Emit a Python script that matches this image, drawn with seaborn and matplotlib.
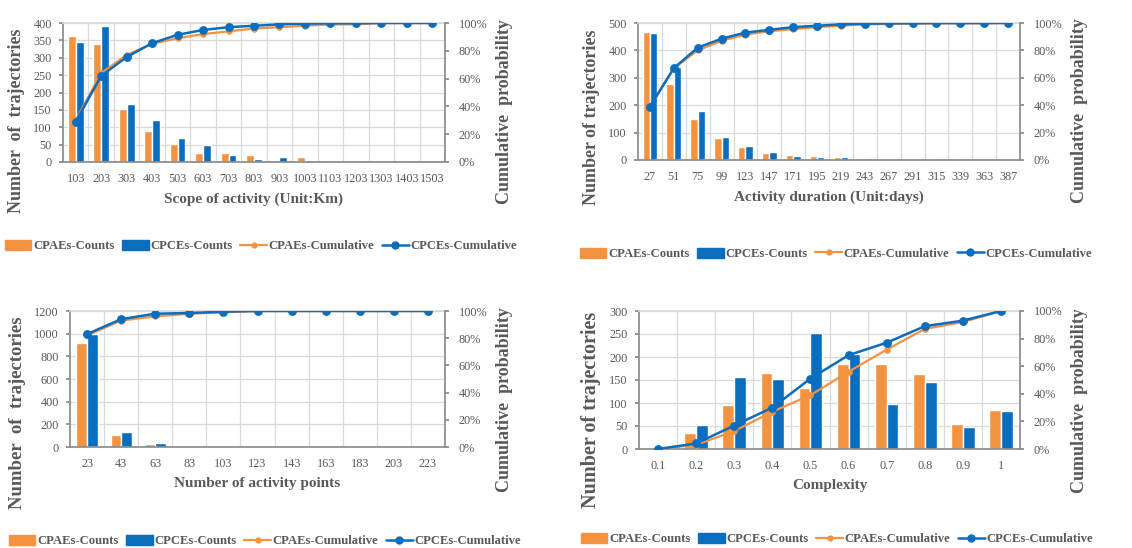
import numpy as np
import pandas as pd
import matplotlib.pyplot as plt
import seaborn as sns
from matplotlib.patches import Patch
from matplotlib.lines import Line2D
from matplotlib.ticker import FuncFormatter, MultipleLocator

sns.set_theme(style="white")
plt.rcParams['font.family'] = ['Liberation Serif', 'DejaVu Serif']

ORANGE = "#F39340"
BLUE = "#0A6DBE"
GRAY = "#595959"
GRID = "#D9D9D9"

# ── Data: scope of activity ──
scope_cats = ["103", "203", "303", "403", "503", "603", "703", "803", "903",
              "1003", "1103", "1203", "1303", "1403", "1503"]
scope_cpae = [362, 340, 153, 90, 53, 27, 25, 20, 5, 15, 7, 2, 2, 2, 1]
scope_cpce = [345, 390, 168, 120, 68, 48, 20, 10, 13, 7, 3, 0, 2, 0, 0]
scope_cpae_cum = [0.30, 0.64, 0.77, 0.85, 0.89, 0.92, 0.94, 0.96, 0.97, 0.98, 0.99, 0.99, 1.0, 1.0, 1.0]
scope_cpce_cum = [0.29, 0.62, 0.755, 0.855, 0.915, 0.95, 0.97, 0.98, 0.99, 0.995, 0.998, 0.998, 1.0, 1.0, 1.0]

# ── Data: activity duration ──
dur_cats = ["27", "51", "75", "99", "123", "147", "171", "195", "219", "243",
            "267", "291", "315", "339", "363", "387"]
dur_cpae = [468, 278, 148, 80, 48, 26, 18, 13, 10, 6, 3, 3, 2, 2, 0, 2]
dur_cpce = [465, 340, 180, 84, 52, 28, 16, 10, 10, 6, 3, 3, 0, 0, 0, 2]
dur_cpae_cum = [0.39, 0.67, 0.80, 0.87, 0.915, 0.94, 0.955, 0.97, 0.98, 0.99, 0.993, 0.996, 0.998, 0.999, 0.999, 1.0]
dur_cpce_cum = [0.39, 0.67, 0.82, 0.885, 0.93, 0.95, 0.97, 0.98, 0.99, 0.995, 0.997, 0.998, 0.999, 0.999, 0.999, 1.0]

# ── Data: number of activity points ──
pts_cats = ["23", "43", "63", "83", "103", "123", "143", "163", "183", "203", "223"]
pts_cpae = [920, 110, 28, 12, 5, 0, 0, 0, 0, 0, 0]
pts_cpce = [1000, 128, 35, 8, 0, 0, 0, 0, 0, 0, 0]
pts_cpae_cum = [0.82, 0.93, 0.96, 0.98, 0.99, 1.0, 1.0, 1.0, 1.0, 1.0, 1.0]
pts_cpce_cum = [0.83, 0.94, 0.98, 0.985, 0.995, 1.0, 1.0, 1.0, 1.0, 1.0, 1.0]

# ── Data: complexity ──
cx_cats = ["0.1", "0.2", "0.3", "0.4", "0.5", "0.6", "0.7", "0.8", "0.9", "1"]
cx_cpae = [3, 35, 95, 165, 133, 185, 185, 163, 55, 85]
cx_cpce = [0, 52, 156, 153, 252, 207, 98, 145, 47, 82]
cx_cpae_cum = [0.0, 0.03, 0.13, 0.27, 0.39, 0.56, 0.72, 0.87, 0.92, 1.0]
cx_cpce_cum = [0.0, 0.04, 0.17, 0.30, 0.51, 0.68, 0.77, 0.89, 0.93, 1.0]

W, H = 1132, 548
fig = plt.figure(figsize=(W / 100, H / 100), dpi=100)


def panel(px, cats, a_cnt, c_cnt, a_cum, c_cum, ymax, ystep, xlabel, leg_xy,
          ylab, ylab_size, ylab_y, ylab2_y):
    left, right, top, bottom = px
    ax = fig.add_axes([left / W, 1 - bottom / H, (right - left) / W, (bottom - top) / H])
    n = len(cats)
    bars = pd.DataFrame({
        "x": cats + cats,
        "count": a_cnt + c_cnt,
        "series": ["CPAEs-Counts"] * n + ["CPCEs-Counts"] * n,
    })
    sns.barplot(data=bars, x="x", y="count", hue="series", order=cats,
                palette=[ORANGE, BLUE], width=0.62, saturation=1,
                ax=ax, legend=False, zorder=2)
    ax.set_ylim(0, ymax)
    ax.yaxis.set_major_locator(MultipleLocator(ystep))
    ax.set_xlim(-0.5, n - 0.5)
    ax.set_xticks(np.arange(n) + 0.5, minor=True)
    ax.grid(True, axis="y", which="major", color=GRID, lw=0.9, zorder=0)
    ax.grid(True, axis="x", which="minor", color=GRID, lw=0.9, zorder=0)
    ax.set_axisbelow(True)
    ax.tick_params(axis="both", which="both", labelsize=8.8, colors=GRAY, length=0)
    ax.tick_params(axis="x", which="major", pad=8)
    ax.tick_params(axis="x", which="minor", length=3, color="#888888")
    ax.tick_params(axis="y", length=3, color="#888888", pad=5)
    ax.set_xlabel(xlabel, fontsize=11, fontweight="bold", color=GRAY, labelpad=5)
    ax.set_ylabel(ylab, fontsize=ylab_size, fontweight="bold", color=GRAY,
                  labelpad=6, y=ylab_y)
    for s in ["left", "bottom"]:
        ax.spines[s].set_color("#8C8C8C")
    ax.spines["top"].set_color(GRID)
    ax.spines["right"].set_visible(False)

    ax2 = ax.twinx()
    cum_a = pd.DataFrame({"x": cats, "cum": a_cum})
    cum_c = pd.DataFrame({"x": cats, "cum": c_cum})
    sns.pointplot(data=cum_a, x="x", y="cum", order=cats, color=ORANGE,
                  errorbar=None, markers="o", markersize=3.5, linewidth=1.6, ax=ax2)
    sns.pointplot(data=cum_c, x="x", y="cum", order=cats, color=BLUE,
                  errorbar=None, markers="o", markersize=5, linewidth=1.8, ax=ax2)
    ax2.set_xlim(-0.5, n - 0.5)
    ax2.set_ylim(0, 1)
    ax2.yaxis.set_major_locator(MultipleLocator(0.2))
    ax2.yaxis.set_major_formatter(FuncFormatter(lambda v, p: f"{v * 100:.0f}%"))
    ax2.tick_params(axis="y", labelsize=8.8, colors=GRAY, length=3, color="#888888", pad=7)
    ax2.set_ylabel("Cumulative  probability", fontsize=13, fontweight="bold", color=GRAY,
                   labelpad=6, y=ylab2_y)
    ax2.set_xlabel(xlabel, fontsize=11, fontweight="bold", color=GRAY, labelpad=5)
    ax2.tick_params(axis="x", which="major", pad=8, length=0)
    ax2.grid(False)
    for s in ["left", "top", "bottom"]:
        ax2.spines[s].set_visible(False)
    ax2.spines["right"].set_color("#8C8C8C")

    handles = [
        Patch(color=ORANGE, label="CPAEs-Counts"),
        Patch(color=BLUE, label="CPCEs-Counts"),
        Line2D([], [], color=ORANGE, marker="o", markersize=3.5, lw=1.6, label="CPAEs-Cumulative"),
        Line2D([], [], color=BLUE, marker="o", markersize=5, lw=1.8, label="CPCEs-Cumulative"),
    ]
    leg = fig.legend(handles=handles, loc="center", ncol=4, frameon=False,
                     bbox_to_anchor=(leg_xy[0] / W, 1 - leg_xy[1] / H),
                     prop={"family": "Liberation Serif", "weight": "bold", "size": 9.1},
                     handlelength=2.1, handleheight=0.85, handletextpad=0.15,
                     columnspacing=0.6, borderpad=0, borderaxespad=0)
    for t in leg.get_texts():
        t.set_color(GRAY)


panel((63, 445, 23, 162), scope_cats, scope_cpae, scope_cpce, scope_cpae_cum, scope_cpce_cum,
      400, 50, "Scope of activity (Unit:Km)", (261, 246),
      "Number  of  trajectories", 13, 0.30, 0.36)
panel((638, 1020, 23, 160), dur_cats, dur_cpae, dur_cpce, dur_cpae_cum, dur_cpce_cum,
      500, 100, "Activity duration (Unit:days)", (836, 254),
      "Number of trajectories", 13, 0.31, 0.36)
panel((70, 445, 311, 447), pts_cats, pts_cpae, pts_cpce, pts_cpae_cum, pts_cpce_cum,
      1200, 200, "Number of activity points", (265, 541),
      "Number  of  trajectories", 13.5, 0.25, 0.35)
panel((639, 1020, 311, 449), cx_cats, cx_cpae, cx_cpce, cx_cpae_cum, cx_cpce_cum,
      300, 50, "Complexity", (837, 539),
      "Number of trajectories", 14.5, 0.28, 0.35)

fig.savefig("out.png", dpi=100, facecolor="white")
